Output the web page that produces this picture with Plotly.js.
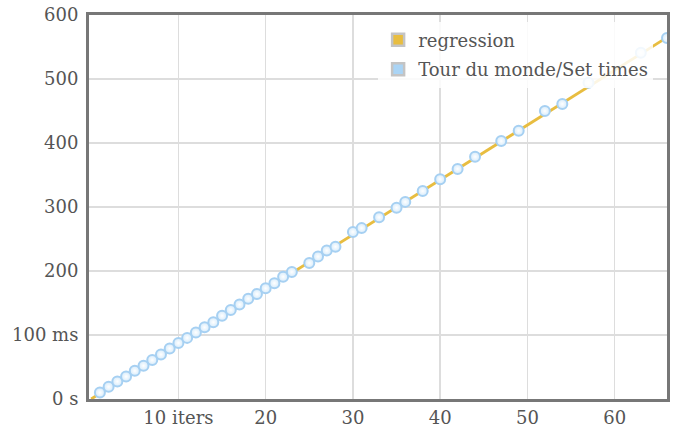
<!DOCTYPE html>
<html>
<head>
<meta charset="utf-8">
<script src="https://cdn.plot.ly/plotly-3.0.1.min.js"></script>
<style>
html,body{margin:0;padding:0;background:#fff;}
#chart{width:683px;height:427px;}
</style>
</head>
<body>
<div id="chart"></div>
<script>
// Sample iterations and measured total times (ms)
const iters = [1,2,3,4,5,6,7,8,9,10,11,12,13,14,15,16,17,18,19,20,21,22,23,25,26,27,28,30,31,33,35,36,38,40,42,44,47,49,52,54,57,63,66];
const times = [10,19,27.5,35,44,52,61,69.5,79,87.5,95.5,104,112,120,130,139,147.5,156.5,164,173,181,191,198.5,212.5,222.5,232,238,261,267,284,299,308,325,343.5,359.5,378.5,403,419,450,461,494,541,564];
// Regression line end points
const regX = [0, 66];
const regY = [0, 565];
// Axis ticks
const xTickVals = [10,20,30,40,50,60];
const xTickText = ['10 iters','20','30','40','50','60'];
const yTickVals = [0,100,200,300,400,500,600];
const yTickText = ['0 s','100 ms','200','300','400','500','600'];
const seriesNames = ['regression','Tour du monde/Set times'];

const gold = '#e8bd40';
const blue = '#aad4f5';
const font = {family:'DejaVu Serif, serif', size:18, color:'#555'};

const traces = [
  {x: regX, y: regY, mode:'lines', line:{color:gold, width:2.8}, showlegend:false, hoverinfo:'skip'},
  {x: iters, y: times, mode:'markers', showlegend:false,
   marker:{size:10, color:'#d6ebfb', gradient:{type:'radial', color:'#ffffff'}, line:{color:'#a6d0f2', width:2}}},
  {type:'bar', x:[null], y:[null], name:seriesNames[0], legendgroup:'a', marker:{color:gold, line:{color:'#c4c4c4', width:2.5}}},
  {type:'bar', x:[null], y:[null], name:seriesNames[1], legendgroup:'b', marker:{color:blue, line:{color:'#c4c4c4', width:2.5}}}
];

const layout = {
  width:683, height:427,
  margin:{l:89, r:16, t:15, b:28},
  paper_bgcolor:'#fff', plot_bgcolor:'#fff',
  font: font,
  showlegend:true,
  xaxis:{range:[-0.25,66], tickvals:xTickVals, ticktext:xTickText, showgrid:true, gridcolor:'#ddd', gridwidth:1.5,
         showline:true, mirror:true, linecolor:'#777', linewidth:3, ticks:'', zeroline:false, tickfont:font},
  yaxis:{range:[0,600], tickvals:yTickVals, ticktext:yTickText, showgrid:true, gridcolor:'#ddd', gridwidth:1.5,
         showline:true, mirror:true, linecolor:'#777', linewidth:3, ticks:'', zeroline:false, tickfont:font, ticklabelstandoff:4},
  legend:{x:0.976, xanchor:'right', y:0.983, yanchor:'top', bgcolor:'rgba(255,255,255,0.85)', borderwidth:0,
          font:font, tracegroupgap:3, itemwidth:30}
};

Plotly.newPlot('chart', traces, layout, {staticPlot:true});
</script>
</body>
</html>
